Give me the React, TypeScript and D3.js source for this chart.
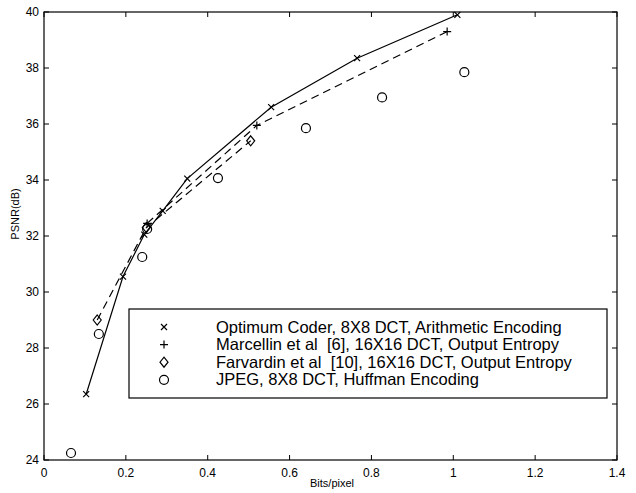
import React from 'react';
import * as d3 from 'd3';

// Optimum coder (x markers, solid line)
const optimumBits = [0.103, 0.193, 0.245, 0.29, 0.35, 0.555, 0.765, 1.01];
const optimumPsnr = [26.35, 30.55, 32.05, 32.9, 34.05, 36.6, 38.35, 39.9];
// Marcellin et al (+ markers, dashed)
const marcellinBits = [0.252, 0.52, 0.985];
const marcellinPsnr = [32.45, 35.95, 39.3];
// Farvardin et al (diamonds, dashed)
const farvardinBits = [0.13, 0.25, 0.505];
const farvardinPsnr = [29.0, 32.3, 35.4];
// JPEG (circles, no line)
const jpegBits = [0.066, 0.134, 0.24, 0.252, 0.425, 0.64, 0.826, 1.027];
const jpegPsnr = [24.25, 28.5, 31.25, 32.25, 34.07, 35.85, 36.95, 37.85];

const xTicks = [0, 0.2, 0.4, 0.6, 0.8, 1, 1.2, 1.4];
const yTicks = [24, 26, 28, 30, 32, 34, 36, 38, 40];
const legendLabels = [
  'Optimum Coder, 8X8 DCT, Arithmetic Encoding',
  'Marcellin et al  [6], 16X16 DCT, Output Entropy',
  'Farvardin et al  [10], 16X16 DCT, Output Entropy',
  'JPEG, 8X8 DCT, Huffman Encoding',
];

const W = 636, H = 493;
const left = 44, right = 617, top = 12, bottom = 460;
const font = 'Liberation Sans, Arial, Helvetica, sans-serif';

function Marker({ kind, x, y }: { kind: string; x: number; y: number }) {
  const s = { fill: 'none', stroke: '#000', strokeWidth: 1.2 };
  if (kind === 'x') return <path d={`M${x - 3},${y - 3}L${x + 3},${y + 3}M${x - 3},${y + 3}L${x + 3},${y - 3}`} {...s} />;
  if (kind === '+') return <path d={`M${x - 4},${y}L${x + 4},${y}M${x},${y - 4}L${x},${y + 4}`} {...s} />;
  if (kind === 'd') return <path d={`M${x},${y - 5}L${x + 4},${y}L${x},${y + 5}L${x - 4},${y}Z`} {...s} />;
  return <circle cx={x} cy={y} r={4.5} {...s} />;
}

export default function App() {
  const x = d3.scaleLinear().domain([0, 1.4]).range([left, right]);
  const y = d3.scaleLinear().domain([24, 40]).range([bottom, top]);
  const line = d3.line<[number, number]>().x(d => x(d[0])).y(d => y(d[1]));

  const zip = (a: number[], b: number[]) => a.map((v, i) => [v, b[i]] as [number, number]);
  const opt = zip(optimumBits, optimumPsnr);
  const mar = zip(marcellinBits, marcellinPsnr);
  const far = zip(farvardinBits, farvardinPsnr);
  const jpg = zip(jpegBits, jpegPsnr);

  return (
    <svg width={W} height={H} style={{ position: 'absolute', left: 0, top: 0, background: '#fff' }}>
      <rect x={0} y={0} width={W} height={H} fill="#fff" />
      <rect x={left} y={top} width={right - left} height={bottom - top} fill="none" stroke="#000" strokeWidth={1.2} />
      {xTicks.map(t => (
        <g key={'x' + t}>
          <line x1={x(t)} x2={x(t)} y1={bottom} y2={bottom - 5} stroke="#000" />
          <line x1={x(t)} x2={x(t)} y1={top} y2={top + 5} stroke="#000" />
          <text x={x(t)} y={477} textAnchor="middle" fontFamily={font} fontSize={12}>{t}</text>
        </g>
      ))}
      {yTicks.map(t => (
        <g key={'y' + t}>
          <line x1={left} x2={left + 5} y1={y(t)} y2={y(t)} stroke="#000" />
          <line x1={right} x2={right - 5} y1={y(t)} y2={y(t)} stroke="#000" />
          <text x={39} y={y(t) + 4} textAnchor="end" fontFamily={font} fontSize={12}>{t}</text>
        </g>
      ))}
      <text x={332} y={487} textAnchor="middle" fontFamily={font} fontSize={11}>Bits/pixel</text>
      <text transform="translate(19,214) rotate(-90)" textAnchor="middle" fontFamily={font} fontSize={11}>PSNR(dB)</text>

      <path d={line(opt) || ''} fill="none" stroke="#000" strokeWidth={1.2} />
      <path d={line(mar) || ''} fill="none" stroke="#000" strokeWidth={1.2} strokeDasharray="8,5" />
      <path d={line(far) || ''} fill="none" stroke="#000" strokeWidth={1.2} strokeDasharray="8,5" />
      {opt.map((p, i) => <Marker key={'o' + i} kind="x" x={x(p[0])} y={y(p[1])} />)}
      {mar.map((p, i) => <Marker key={'m' + i} kind="+" x={x(p[0])} y={y(p[1])} />)}
      {far.map((p, i) => <Marker key={'f' + i} kind="d" x={x(p[0])} y={y(p[1])} />)}
      {jpg.map((p, i) => <Marker key={'j' + i} kind="o" x={x(p[0])} y={y(p[1])} />)}

      <rect x={129} y={309} width={478} height={89} fill="#fff" stroke="#000" strokeWidth={1.2} />
      {legendLabels.map((l, i) => (
        <g key={l}>
          <Marker kind={['x', '+', 'd', 'o'][i]} x={164} y={327 + i * 17.6} />
          <text x={216} y={332.5 + i * 17.6} fontFamily={font} fontSize={16.5} style={{ whiteSpace: 'pre' }}>{l}</text>
        </g>
      ))}
    </svg>
  );
}
